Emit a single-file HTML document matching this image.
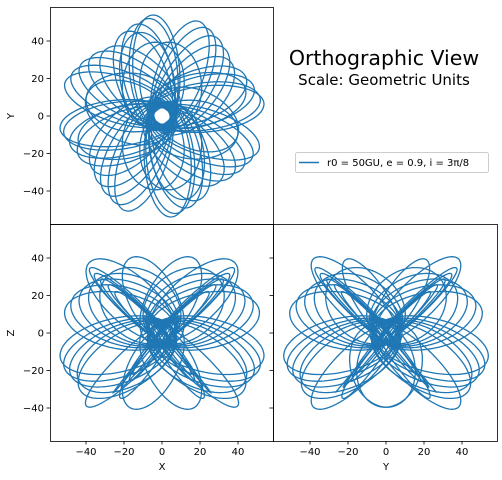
<!DOCTYPE html>
<html><head><meta charset="utf-8">
<style>
body{margin:0;background:#fff;}
svg{display:block;font-family:"DejaVu Sans","Liberation Sans",sans-serif;}
</style></head>
<body>
<svg id="fig" width="502" height="480" viewBox="0 0 502 480" xmlns="http://www.w3.org/2000/svg">
<rect width="502" height="480" fill="#fff"/>
<g id="plots"></g>
<text x="384" y="65" font-size="20.5" text-anchor="middle" fill="#000">Orthographic View</text>
<text x="384" y="85" font-size="15" text-anchor="middle" fill="#000">Scale: Geometric Units</text>
<g>
<rect x="295.5" y="152.5" width="193" height="20" rx="2" fill="#fff" stroke="#ccc"/>
<line x1="299" y1="162.5" x2="319" y2="162.5" stroke="#1f77b4" stroke-width="1.5"/>
<text x="327" y="166" font-size="10" fill="#000">r0 = 50GU, e = 0.9, i = 3π/8</text>
</g>
</svg>
<script>
// orbit data: node longitude (deg) and argument of periapsis (deg) per orbit
var orbitNode = [250,253,256,259,262,265,268,255,260,264,
                 342,345,348,351,354,357,360,347,352,356,
                 70,73,76,79,82,85,88,75,80,84,
                 162,165,168,171,174,177,180,167,172,176,
                 45,135,225,315,30,120,210,300];
var orbitPeri = [-50,-42,-35,-28,28,35,42,50,-20,20,
                 -50,-42,-35,-28,28,35,42,50,-20,20,
                 -50,-42,-35,-28,28,35,42,50,-20,20,
                 -50,-42,-35,-28,28,35,42,50,-20,20,
                 70,-70,70,-70,-65,65,-65,65];
var semiMajor = 31, ecc = 0.8, incDeg = 50;
var ticks = [-40,-20,0,20,40];
var tickLabels = ["−40","−20","0","20","40"];

var NS = "http://www.w3.org/2000/svg";
var root = document.getElementById("plots");
function mk(tag, attrs, parent){var e=document.createElementNS(NS,tag);for(var k in attrs)e.setAttribute(k,attrs[k]);(parent||root).appendChild(e);return e;}

var panels = [
 {name:"xy-panel", x0:50, y0:7, w:223, h:217, cx:162, cy:116, sx:1.9, sy:1.875, h1:"x", v1:"y", xlab:false, ylab:true, ytickOnly:false, ylabel:"Y", xlabel:null},
 {name:"xz-panel", x0:50, y0:224, w:223, h:217, cx:162, cy:333, sx:1.9, sy:1.875, h1:"x", v1:"z", xlab:true, ylab:true, ytickOnly:false, ylabel:"Z", xlabel:"X"},
 {name:"yz-panel", x0:273, y0:224, w:224, h:217, cx:386, cy:333, sx:1.9, sy:1.875, h1:"y", v1:"z", xlab:true, ylab:false, ytickOnly:true, ylabel:null, xlabel:"Y"}
];

function orbitPoints(k){
  var O=orbitNode[k]*Math.PI/180, w=orbitPeri[k]*Math.PI/180, inc=incDeg*Math.PI/180;
  var p=semiMajor*(1-ecc*ecc), pts=[];
  for(var j=0;j<=180;j++){
    var nu=j/180*2*Math.PI, r=p/(1+ecc*Math.cos(nu)), u=w+nu;
    var P=r*Math.cos(u), Q=r*Math.sin(u);
    pts.push({x:P*Math.cos(O)-Q*Math.cos(inc)*Math.sin(O), y:P*Math.sin(O)+Q*Math.cos(inc)*Math.cos(O), z:Q*Math.sin(inc)});
  }
  return pts;
}
var orbits=[];
for(var k=0;k<orbitNode.length;k++) orbits.push(orbitPoints(k));

panels.forEach(function(pn,idx){
  var g=mk("g",{});
  
  
  var cp=mk("clipPath",{id:"clip"+idx},g);
  mk("rect",{x:pn.x0,y:pn.y0,width:pn.w,height:pn.h},cp);
  var sx=function(v){return pn.cx+v*pn.sx;}, sy=function(v){return pn.cy-v*pn.sy;};
  var lg=mk("g",{"clip-path":"url(#clip"+idx+")"},g);
  orbits.forEach(function(pts,k){
    var d=pts.map(function(q,i){return (i?"L":"M")+sx(q[pn.h1]).toFixed(1)+","+sy(q[pn.v1]).toFixed(1);}).join("");
    var path=mk("path",{d:d,fill:"none",stroke:"#1f77b4","stroke-width":"1.3"},lg);
    
    
  });
  var fr=mk("rect",{x:pn.x0+0.5,y:pn.y0+0.5,width:pn.w,height:pn.h,fill:"none",stroke:"#000","stroke-width":"0.8"},g);
  
  
  ticks.forEach(function(t,i){
    if(pn.xlab){
      var X=sx(t);
      mk("line",{x1:X,y1:pn.y0+pn.h,x2:X,y2:pn.y0+pn.h+3.5,stroke:"#000","stroke-width":"0.8"},g);
      var tx=mk("text",{x:X,y:pn.y0+pn.h+14,"font-size":"10","text-anchor":"middle"},g);
      tx.textContent=tickLabels[i];
      
      
    }
    if(pn.ylab||pn.ytickOnly){
      var Y=sy(t);
      mk("line",{x1:pn.x0,y1:Y,x2:pn.x0-3.5,y2:Y,stroke:"#000","stroke-width":"0.8"},g);
      if(pn.ylab){
        var ty=mk("text",{x:pn.x0-6,y:Y+3.5,"font-size":"10","text-anchor":"end"},g);
        ty.textContent=tickLabels[i];
        
        
      }
    }
  });
  if(pn.ylabel){
    var yl=mk("text",{x:14,y:pn.cy,"font-size":"10","text-anchor":"middle",transform:"rotate(-90 14 "+pn.cy+")"},g);
    yl.textContent=pn.ylabel;
    
    
  }
  if(pn.xlabel){
    var xl=mk("text",{x:pn.cx,y:470,"font-size":"10","text-anchor":"middle"},g);
    xl.textContent=pn.xlabel;
    
    
  }
});
</script>
</body></html>
